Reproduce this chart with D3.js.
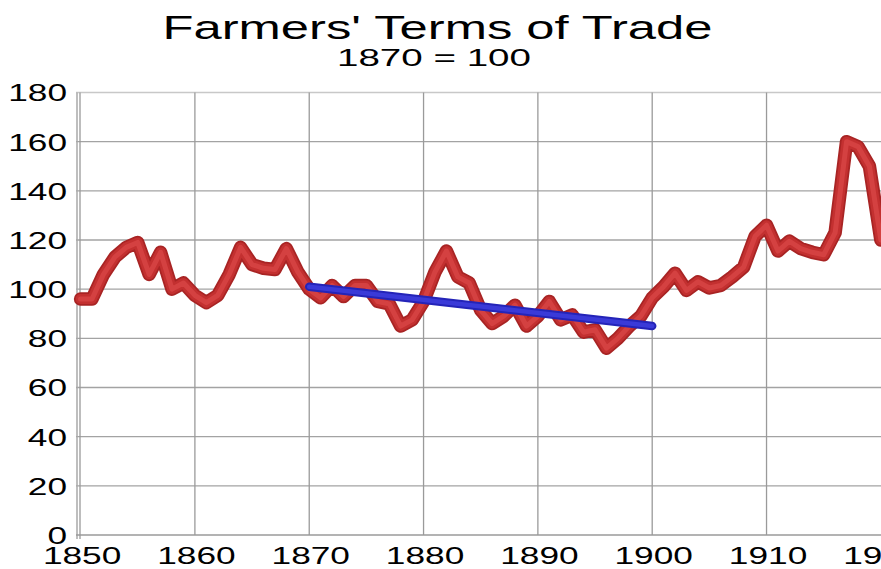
<!DOCTYPE html>
<html>
<head>
<meta charset="utf-8">
<script src="https://cdn.jsdelivr.net/npm/d3@7"></script>
<style>
  html, body { margin: 0; padding: 0; background: #fff; overflow: hidden; }
  svg { display: block; font-family: "Liberation Sans", Arial, sans-serif; }
</style>
</head>
<body>
<svg id="chart" width="881" height="569"></svg>
<script>
// ---- Data ----
const years = d3.range(1850, 1921);
const termsOfTrade = [
  96, 96, 106, 113, 117, 119, 106, 115, 100, 102.5,     // 1850-1859
  97.5, 94.5, 97.5, 106, 117, 110, 108.5, 108, 116.5, 107, // 1860-1869
  100, 96.5, 101.5, 97, 101.5, 101.5, 95, 94, 85, 87.5,  // 1870-1879
  95, 107, 115.5, 105, 102.5, 91.5, 86, 89, 93.5, 85,    // 1880-1889
  89, 95, 87.5, 89.5, 82.5, 83.5, 76, 80, 85, 89,        // 1890-1899
  96.5, 101, 106.5, 99.5, 103, 100.5, 101.5, 105, 109, 121.5, // 1900-1909
  126, 115.5, 119.5, 116.5, 115, 114, 123, 160, 158, 150, // 1910-1919
  120                                                     // 1920
];
const trendYears = [1870, 1900];
const trendValues = [101, 85];
const xTicks = [1850, 1860, 1870, 1880, 1890, 1900, 1910, 1920];
const yTicks = [0, 20, 40, 60, 80, 100, 120, 140, 160, 180];
const titleText = "Farmers' Terms of Trade";
const subtitleText = "1870 = 100";

// ---- Layout ----
const svg = d3.select("#chart");
const x = d3.scaleLinear().domain([1849.6, 1920.1]).range([76, 882]);
const y = d3.scaleLinear().domain([0, 180]).range([535, 92.5]);
const SX = 1.5; // horizontal stretch of text seen in reference

// Title
svg.append("text")
  .attr("x", 437.5).attr("y", 39)
  .attr("text-anchor", "middle")
  .attr("font-size", 33)
  .attr("textLength", 550).attr("lengthAdjust", "spacingAndGlyphs")
  .attr("fill", "#000")
  .text(titleText);
svg.append("text")
  .attr("x", 434).attr("y", 66)
  .attr("text-anchor", "middle")
  .attr("font-size", 24.5)
  .attr("textLength", 194).attr("lengthAdjust", "spacingAndGlyphs")
  .attr("fill", "#000")
  .text(subtitleText);

// Grid
const grid = svg.append("g");
grid.selectAll("line.h").data(yTicks.filter(d => d > 0)).join("line")
  .attr("x1", x(1849.6)).attr("x2", 881)
  .attr("y1", d => y(d)).attr("y2", d => y(d))
  .attr("stroke", d => d === 180 ? "#c8c8c8" : "#a3a3a3")
  .attr("stroke-width", 1.3);
grid.selectAll("line.v").data(xTicks.filter(d => d > 1850 && d < 1920)).join("line")
  .attr("x1", d => x(d)).attr("x2", d => x(d))
  .attr("y1", y(180)).attr("y2", y(0))
  .attr("stroke", "#9a9a9a")
  .attr("stroke-width", 1.3);

// Axes (using d3 axes, styled)
const yAxis = svg.append("g")
  .attr("transform", `translate(${x(1849.6) + 1},0)`)
  .call(d3.axisLeft(y).tickValues(yTicks).tickSize(0).tickPadding(0));
yAxis.select(".domain").remove();
yAxis.selectAll("text")
  .attr("font-size", 23.5)
  .attr("fill", "#000")
  .attr("font-family", "Liberation Sans, Arial, sans-serif")
  .attr("x", 0)
  .attr("dy", "0.36em")
  .attr("text-anchor", "end")
  .attr("transform", `translate(-10,0) scale(${SX},1)`);

const xAxis = svg.append("g")
  .attr("transform", `translate(0,${y(0)})`)
  .call(d3.axisBottom(x).tickValues(xTicks).tickFormat(d3.format("d")).tickSize(0).tickPadding(0));
xAxis.select(".domain").remove();
xAxis.selectAll("text")
  .attr("font-size", 23.5)
  .attr("fill", "#000")
  .attr("font-family", "Liberation Sans, Arial, sans-serif")
  .attr("y", 0)
  .attr("dy", 0)
  .attr("text-anchor", "middle")
  .attr("transform", `translate(1,29) scale(${SX},1)`);

// Axis frame lines (left double line and bottom)
svg.append("line")
  .attr("x1", x(1849.6) + 1).attr("x2", x(1849.6) + 1)
  .attr("y1", y(180)).attr("y2", y(0) + 4)
  .attr("stroke", "#a8a8a8").attr("stroke-width", 1.5);
svg.append("line")
  .attr("x1", x(1849.6) + 4).attr("x2", x(1849.6) + 4)
  .attr("y1", y(180)).attr("y2", y(0) + 4)
  .attr("stroke", "#9a9a9a").attr("stroke-width", 1.3);
svg.append("line")
  .attr("x1", x(1849.6)).attr("x2", 881)
  .attr("y1", y(0)).attr("y2", y(0))
  .attr("stroke", "#9a9a9a").attr("stroke-width", 1.5);

// Red series (tube look)
const series = years.map((yr, i) => [yr, termsOfTrade[i]]);
const line = d3.line().x(d => x(d[0])).y(d => y(d[1]));
const layers = [
  { w: 13.5, c: "#a82424" },
  { w: 10, c: "#c33030" },
  { w: 5, c: "#d44141" }
];
layers.forEach(l => {
  svg.append("path").datum(series)
    .attr("d", line)
    .attr("fill", "none")
    .attr("stroke", l.c)
    .attr("stroke-width", l.w)
    .attr("stroke-linejoin", "round")
    .attr("stroke-linecap", "round");
});

// Blue trend line
const trend = trendYears.map((yr, i) => [yr, trendValues[i]]);
[{ w: 8.5, c: "#2424b8" }, { w: 4.5, c: "#3a3ad8" }].forEach(l => {
  svg.append("path").datum(trend)
    .attr("d", line)
    .attr("fill", "none")
    .attr("stroke", l.c)
    .attr("stroke-width", l.w)
    .attr("stroke-linecap", "round");
});
</script>
</body>
</html>
